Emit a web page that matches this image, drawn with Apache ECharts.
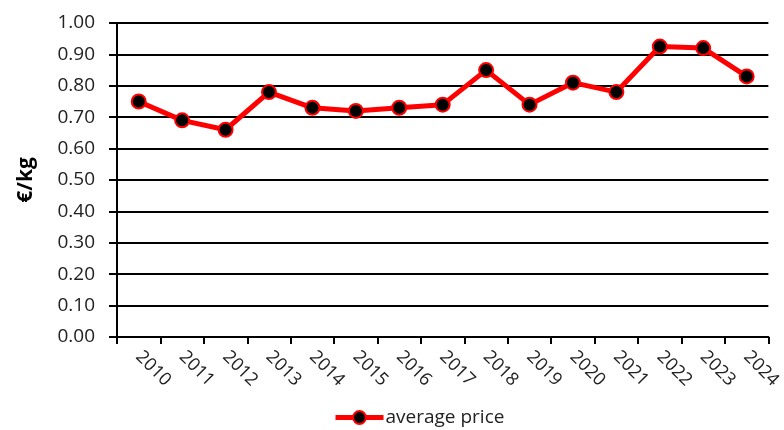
<!DOCTYPE html>
<html>
<head>
<meta charset="utf-8">
<script src="https://cdn.jsdelivr.net/npm/echarts@6/dist/echarts.min.js"></script>
<style>
  html, body { margin: 0; padding: 0; background: #fff; }
  #main { width: 784px; height: 430px; }
</style>
</head>
<body>
<div id="main"></div>
<script>
// years on the x axis
const years = ['2010', '2011', '2012', '2013', '2014', '2015', '2016', '2017',
  '2018', '2019', '2020', '2021', '2022', '2023', '2024'];
// average price, €/kg
const avgPrice = [0.75, 0.69, 0.66, 0.78, 0.73, 0.72, 0.73, 0.74,
  0.85, 0.74, 0.81, 0.78, 0.925, 0.92, 0.83];
const seriesName = 'average price';
const yAxisName = '€/kg';

const font = 'Open Sans';
const chart = echarts.init(document.getElementById('main'));

chart.setOption({
  animation: false,
  grid: { left: 117, right: 8, top: 23, bottom: 93 },
  legend: {
    top: 403,
    left: 328,
    itemWidth: 48,
    itemHeight: 16,
    itemGap: 4,
    lineStyle: { width: 5 },
    textStyle: { fontFamily: font, fontSize: 19, color: '#222', padding: [0, 0, 0, -3] },
    data: [seriesName]
  },
  xAxis: {
    type: 'category',
    data: years,
    boundaryGap: true,
    axisLine: { lineStyle: { color: '#000', width: 2 } },
    axisTick: { show: true, length: 7, lineStyle: { color: '#000', width: 2 } },
    axisLabel: {
      rotate: -45,
      margin: 17,
      fontFamily: font,
      fontSize: 18,
      color: '#222',
      interval: 0
    },
    splitLine: { show: false }
  },
  yAxis: {
    type: 'value',
    min: 0,
    max: 1,
    interval: 0.1,
    name: yAxisName,
    nameLocation: 'middle',
    nameGap: 80,
    nameRotate: 90,
    nameTextStyle: { fontFamily: font, fontSize: 21, fontWeight: 'bold', color: '#000' },
    axisLine: { show: true, lineStyle: { color: '#000', width: 2 } },
    axisTick: { show: true, length: 8, lineStyle: { color: '#000', width: 2 } },
    axisLabel: {
      margin: 22,
      fontFamily: font,
      fontSize: 19,
      color: '#222',
      formatter: v => v.toFixed(2)
    },
    splitLine: { show: true, lineStyle: { color: '#000', width: 2 } }
  },
  series: [{
    name: seriesName,
    type: 'line',
    data: avgPrice,
    symbol: 'circle',
    symbolSize: 14,
    lineStyle: { color: '#ff0000', width: 5 },
    itemStyle: { color: '#000', borderColor: '#ff0000', borderWidth: 2 },
    z: 3
  }]
});
</script>
</body>
</html>
